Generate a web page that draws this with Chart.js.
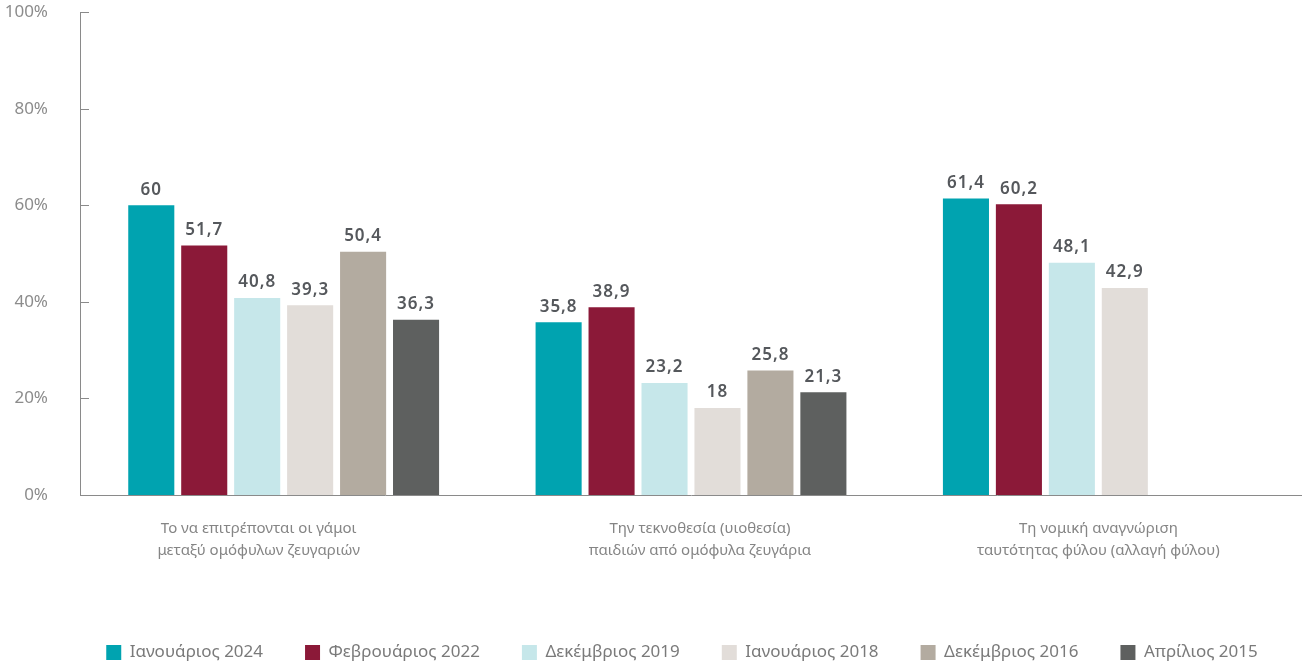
<!DOCTYPE html>
<html>
<head>
<meta charset="utf-8">
<script src="https://cdn.jsdelivr.net/npm/chart.js@4"></script>
<style>
  html, body { margin: 0; padding: 0; background: #fff; overflow: hidden; }
  #wrap { width: 1302px; height: 701px; position: relative; margin-top: -30px; }
</style>
</head>
<body>
<div id="wrap"><canvas id="chart"></canvas></div>
<script>
// Categories (two-line labels)
const categories = [
    ['Το να επιτρέπονται οι γάμοι', 'μεταξύ ομόφυλων ζευγαριών'],
    ['Την τεκνοθεσία (υιοθεσία)', 'παιδιών από ομόφυλα ζευγάρια'],
    ['Τη νομική αναγνώριση', 'ταυτότητας φύλου (αλλαγή φύλου)']
];

// Series
const seriesNames = ['Ιανουάριος 2024', 'Φεβρουάριος 2022', 'Δεκέμβριος 2019', 'Ιανουάριος 2018', 'Δεκέμβριος 2016', 'Απρίλιος 2015'];
const jan2024 = [60, 35.8, 61.4];
const feb2022 = [51.7, 38.9, 60.2];
const dec2019 = [40.8, 23.2, 48.1];
const jan2018 = [39.3, 18, 42.9];
const dec2016 = [50.4, 25.8, null];
const apr2015 = [36.3, 21.3, null];
const seriesColors = ['#00a3b0', '#8b1938', '#c6e7ea', '#e2ddd9', '#b3aba0', '#5e605f'];

// Y axis ticks
const yTicks = [0, 20, 40, 60, 80, 100];

const FONT = '"Noto Sans", "Open Sans", sans-serif';

// the category captions in the original are not exactly centred under the groups
const captionShift = [-25, 9, 0];
// legend sits a little right of the page centre
const legendShift = 31;

// Function to draw small tick marks inside the y axis
const yTickMarks = {
    id: 'yTickMarks',
    afterDraw(chart) {
        const y = chart.scales.y;
        const ctx = chart.ctx;
        ctx.save();
        ctx.strokeStyle = '#8a8a8a';
        ctx.lineWidth = 1;
        yTicks.forEach(v => {
            const py = Math.round(y.getPixelForValue(v)) + 0.5;
            ctx.beginPath();
            ctx.moveTo(y.right, py);
            ctx.lineTo(y.right + 9, py);
            ctx.stroke();
        });
        ctx.restore();
    }
};

// Function to nudge the legend sideways
const legendNudge = {
    id: 'legendNudge',
    afterLayout(chart) {
        if (chart.legend) {
            chart.legend.left += legendShift;
            chart.legend.right += legendShift;
        }
    }
};

// Function to draw the category captions under the x axis
const categoryCaptions = {
    id: 'categoryCaptions',
    afterDraw(chart) {
        const x = chart.scales.x;
        const ctx = chart.ctx;
        ctx.save();
        ctx.font = '15px ' + FONT;
        ctx.fillStyle = '#858585';
        ctx.textAlign = 'center';
        ctx.textBaseline = 'middle';
        categories.forEach((lines, i) => {
            const px = x.getPixelForTick(i) + captionShift[i];
            lines.forEach((line, k) => {
                ctx.fillText(line, px, x.top + 34 + k * 22);
            });
        });
        ctx.restore();
    }
};

// Function to put value labels above bars
const valueLabels = {
    id: 'valueLabels',
    afterDatasetsDraw(chart) {
        const ctx = chart.ctx;
        ctx.save();
        ctx.font = '600 17px ' + FONT;
        ctx.letterSpacing = '1px';
        ctx.fillStyle = '#55585c';
        ctx.textAlign = 'center';
        ctx.textBaseline = 'bottom';
        chart.data.datasets.forEach((ds, i) => {
            const meta = chart.getDatasetMeta(i);
            meta.data.forEach((bar, j) => {
                const v = ds.data[j];
                if (v === null || v === undefined) return;
                ctx.fillText(String(v).replace('.', ','), bar.x, bar.y - 7);
            });
        });
        ctx.restore();
    }
};

const allSeries = [jan2024, feb2022, dec2019, jan2018, dec2016, apr2015];

new Chart(document.getElementById('chart'), {
    type: 'bar',
    data: {
        labels: categories,
        datasets: allSeries.map((d, i) => ({
            label: seriesNames[i],
            data: d,
            backgroundColor: seriesColors[i],
            borderWidth: 0,
            barPercentage: 0.87,
            categoryPercentage: 0.78
        }))
    },
    options: {
        responsive: true,
        maintainAspectRatio: false,
        animation: false,
        layout: { padding: 0 },
        plugins: {
            tooltip: { enabled: false },
            legend: {
                position: 'bottom',
                labels: {
                    font: { family: FONT, size: 17 },
                    color: '#7a7a7a',
                    boxWidth: 15,
                    boxHeight: 15,
                    padding: 42
                }
            }
        },
        scales: {
            x: {
                grid: { display: false, drawTicks: false },
                border: { display: true, color: '#8a8a8a', width: 1 },
                ticks: { display: false },
                afterFit(scale) { scale.height = 107; }
            },
            y: {
                min: 0,
                max: 100,
                grid: { display: false, drawTicks: false },
                border: { display: true, color: '#8a8a8a', width: 1 },
                ticks: {
                    stepSize: 20,
                    font: { family: FONT, size: 17 },
                    color: '#8c8c8c',
                    padding: 32,
                    callback: v => v + '%'
                },
                afterFit(scale) { scale.width = 80; }
            }
        }
    },
    plugins: [yTickMarks, legendNudge, categoryCaptions, valueLabels]
});
</script>
</body>
</html>
